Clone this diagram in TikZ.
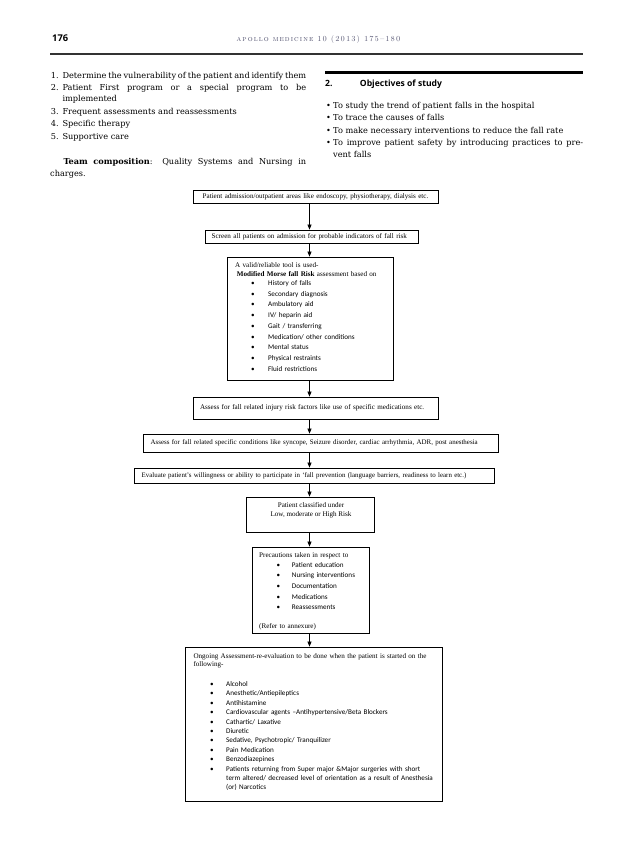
\documentclass[tikz,border=0pt]{standalone}
\usepackage{fontspec}
\usetikzlibrary{arrows.meta}
\setmainfont{Liberation Serif}
\newfontfamily\tnr{Liberation Serif}
\newfontfamily\carl{Carlito}
\newfontfamily\dvs{DejaVu Serif}
\newfontfamily\osans{Open Sans}
\newfontfamily\hdrfam{lmromancaps10-regular.otf}[LetterSpace=14]
\definecolor{hdrcol}{RGB}{80,80,110}
\newcommand\pgfont{\dvs\fontsize{8.2}{9.8}\selectfont}
\newcommand\fcfont{\tnr\fontsize{7.1}{8.6}\selectfont}
\newcommand\bul[3]{\hspace*{#1}\makebox[#2][l]{\carl\fontsize{7.15}{8}\selectfont •}{\carl\fontsize{7.15}{8}\selectfont #3}}
\newcommand\cb[1]{{\carl\fontsize{7.15}{8}\selectfont #1}}
\newcommand\jline[2]{\makebox[#1][s]{\spaceskip=0.28em plus 1em minus 0.2em #2}}
\begin{document}
\begin{tikzpicture}[x=1pt,y=-1pt,
  pg/.style={anchor=base west, inner sep=0, font=\pgfont},
  box/.style={draw, line width=0.75pt, inner ysep=0, font=\fcfont},
  sbox/.style={box, align=left},
  txt/.style={anchor=base west, inner sep=0, align=left},
  arr/.style={line width=0.7pt, -{Triangle[length=5pt,width=4pt]}}]
\fill[white] (0,0) rectangle (638,851);
\useasboundingbox (0,0) rectangle (638,851);
% header
\node[anchor=base west, inner sep=0, font=\osans\bfseries\fontsize{9.3}{10}\selectfont] (pgnum) at (52,42) {176};
\node[anchor=base, inner sep=0, font=\hdrfam\fontsize{7.7}{8}\selectfont, text=hdrcol] (runhead) at (318.5,41.5) {apollo medicine 10 (2013) 175–180};
\coordinate (hrL) at (50,54); \coordinate (hrR) at (583,54);
\draw[line width=1.2pt, black!80] (hrL) -- (hrR);
% left column
\node[pg] (l1n) at (50.7,78) {1.};
\node[pg] (l1) at (62.3,78) {\jline{243.7pt}{Determine the vulnerability of the patient and identify them}};
\node[pg] (l2n) at (50.7,90) {2.};
\node[pg] (l2) at (62.3,90) {\jline{243.7pt}{Patient First program or a special program to be}};
\node[pg] (l2b) at (62.3,101.3) {implemented};
\node[pg] (l3n) at (50.7,114) {3.};
\node[pg] (l3) at (62.3,114) {Frequent assessments and reassessments};
\node[pg] (l4n) at (50.7,126.3) {4.};
\node[pg] (l4) at (62.3,126.3) {Specific therapy};
\node[pg] (l5n) at (50.7,139) {5.};
\node[pg] (l5) at (62.3,139) {Supportive care};
\node[pg] (team) at (63.3,164) {\jline{242.7pt}{\textbf{Team composition}: Quality Systems and Nursing in}};
\node[pg] (team2) at (50,176) {charges.};
% right column
\coordinate (srL) at (325,72.7); \coordinate (srR) at (583,72.7);
\draw[line width=3pt] (srL) -- (srR);
\node[anchor=base west, inner sep=0, font=\osans\bfseries\fontsize{8.6}{10}\selectfont] (secn) at (325,86) {2.};
\node[anchor=base west, inner sep=0, font=\osans\bfseries\fontsize{8.6}{10}\selectfont] (sect) at (359.7,86) {Objectives of study};
\node[pg] (r1b) at (326,108.5) {•};
\node[pg] (r1) at (333,108.5) {To study the trend of patient falls in the hospital};
\node[pg] (r2b) at (326,120.8) {•};
\node[pg] (r2) at (333,120.8) {To trace the causes of falls};
\node[pg] (r3b) at (326,133) {•};
\node[pg] (r3) at (333,133) {To make necessary interventions to reduce the fall rate};
\node[pg] (r4b) at (326,145.3) {•};
\node[pg] (r4) at (333,145.3) {\jline{250pt}{To improve patient safety by introducing practices to pre-}};
\node[pg] (r4c) at (333,157.5) {vent falls};
% flowchart
\coordinate (ax) at (309.5,0);
\node[box, align=center, minimum width=245, minimum height=13, inner xsep=8, text width=229] (b1) at (315.5,196.5) {\mbox{Patient admission/outpatient areas like endoscopy, physiotherapy, dialysis etc.}};
\node[sbox, minimum width=213, minimum height=13, inner xsep=6.7, text width=199.6] (b2) at (311.5,236.5) {\mbox{Screen all patients on admission for probable indicators of fall risk}};
\node[box, minimum width=166, minimum height=123, inner sep=0] (b3) at (310,318.5) {};
\node[txt, text width=150, font=\tnr\fontsize{7.1}{8.6}\selectfont] (b3t) at (235,267.7) {A valid/reliable tool is used-\\
\hspace*{1.7pt}\textbf{Modified Morse fall Risk} assessment based on\\[0.4pt]
\bul{16pt}{17pt}{History of falls}\\[2.15pt]
\bul{16pt}{17pt}{Secondary diagnosis}\\[2.15pt]
\bul{16pt}{17pt}{Ambulatory aid}\\[2.15pt]
\bul{16pt}{17pt}{IV/ heparin aid}\\[2.15pt]
\bul{16pt}{17pt}{Gait / transferring}\\[2.15pt]
\bul{16pt}{17pt}{Medication/ other conditions}\\[2.15pt]
\bul{16pt}{17pt}{Mental status}\\[2.15pt]
\bul{16pt}{17pt}{Physical restraints}\\[2.15pt]
\bul{16pt}{17pt}{Fluid restrictions}};
\node[sbox, minimum width=245, minimum height=22, inner xsep=7, text width=231] (b4) at (315.5,408) {\mbox{Assess for fall related injury risk factors like use of specific medications etc.}};
\node[sbox, minimum width=355, minimum height=18, inner xsep=7.7, text width=339.6, font=\tnr\fontsize{6.95}{8.6}\selectfont] (b5) at (320.5,443) {\mbox{Assess for fall related specific conditions like syncope, Seizure disorder, cardiac arrhythmia, ADR, post anesthesia}};
\node[sbox, minimum width=360, minimum height=15, inner xsep=7.7, text width=344.6, font=\tnr\fontsize{6.9}{8.6}\selectfont] (b6) at (314,475.5) {\mbox{Evaluate patient’s willingness or ability to participate in ‘fall prevention (language barriers, readiness to learn etc.)}};
\node[box, minimum width=128, minimum height=35, inner sep=0] (b7) at (310,514.5) {};
\node[anchor=base, inner sep=0, align=center, font=\tnr\fontsize{7.1}{9}\selectfont] (b7t) at (311,516) {Patient classified under\\Low, moderate or High Risk};
\node[box, minimum width=117, minimum height=86, inner sep=0] (b8) at (310.5,590) {};
\node[txt, text width=105, font=\tnr\fontsize{7.1}{9.3}\selectfont] (b8t) at (259,557.7) {Precautions taken in respect to\\
\bul{17.5pt}{15.2pt}{Patient education}\\[1.4pt]
\bul{17.5pt}{15.2pt}{Nursing interventions}\\[1.4pt]
\bul{17.5pt}{15.2pt}{Documentation}\\[1.4pt]
\bul{17.5pt}{15.2pt}{Medications}\\[1.4pt]
\bul{17.5pt}{15.2pt}{Reassessments}\\[9.7pt]
(Refer to annexure)};
\node[box, minimum width=257, minimum height=154, inner sep=0] (b9) at (313.5,724) {};
\node[txt, text width=240, font=\tnr\fontsize{7.1}{8.3}\selectfont] (b9t) at (193.3,658) {Ongoing Assessment-re-evaluation to be done when the patient is started on the\\
following-\\[11.7pt]
\bul{16.7pt}{16pt}{Alcohol}\\[1.14pt]
\bul{16.7pt}{16pt}{Anesthetic/Antiepileptics}\\[1.14pt]
\bul{16.7pt}{16pt}{Antihistamine}\\[1.14pt]
\bul{16.7pt}{16pt}{Cardiovascular agents –Antihypertensive/Beta Blockers}\\[1.14pt]
\bul{16.7pt}{16pt}{Cathartic/ Laxative}\\[1.14pt]
\bul{16.7pt}{16pt}{Diuretic}\\[1.14pt]
\bul{16.7pt}{16pt}{Sedative, Psychotropic/ Tranquilizer}\\[1.14pt]
\bul{16.7pt}{16pt}{Pain Medication}\\[1.14pt]
\bul{16.7pt}{16pt}{Benzodiazepines}\\[1.14pt]
\bul{16.7pt}{16pt}{Patients returning from Super major \&Major surgeries with short}\\[0.7pt]
\hspace*{32.7pt}\cb{term altered/ decreased level of orientation as a result of Anesthesia}\\[0.7pt]
\hspace*{32.7pt}\cb{(or) Narcotics}};
% arrows
\draw[arr] (b1.south -| ax) -- (b2.north -| ax);
\draw[arr] (b2.south -| ax) -- (b3.north -| ax);
\draw[arr] (b3.south -| ax) -- (b4.north -| ax);
\draw[arr] (b4.south -| ax) -- (b5.north -| ax);
\draw[arr] (b5.south -| ax) -- (b6.north -| ax);
\draw[arr] (b6.south -| ax) -- (b7.north -| ax);
\draw[arr] (b7.south -| ax) -- (b8.north -| ax);
\draw[arr] (b8.south -| ax) -- (b9.north -| ax);
\end{tikzpicture}
\end{document}
